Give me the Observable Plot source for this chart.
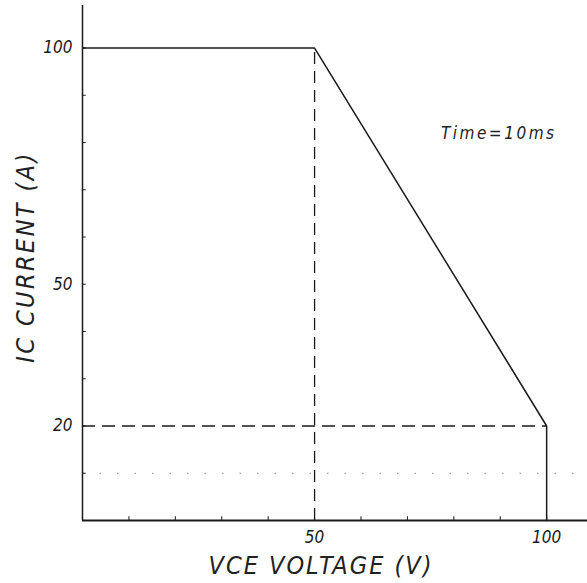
<!DOCTYPE html>
<html>
<head>
<meta charset="utf-8">
<script src="https://cdn.jsdelivr.net/npm/d3@7"></script>
<script src="https://cdn.jsdelivr.net/npm/@observablehq/plot@0.6"></script>
<style>
  html, body { margin: 0; padding: 0; background: #fff; }
  svg { display: block; }
</style>
</head>
<body>
<div id="chart"></div>
<script>
// Safe operating area boundary (VCE in V, IC in A)
const voltage = [0, 50, 100, 100];
const current = [100, 100, 20, 0];

// Dashed guide lines
const guideVoltage = [50];   // vertical guide at 50 V (0..100 A)
const guideCurrent = [20];   // horizontal guide at 20 A (0..100 V)
const faintCurrent = [10];   // faint dotted line

// Tick labels and minor tick positions
const yTickLabels = [20, 50, 100];
const xTickLabels = [50, 100];
const yMinorTicks = [10, 20, 30, 40, 50, 60, 70, 80, 90, 100];
const xMinorTicks = [10, 20, 30, 40, 50, 60, 70, 80, 90, 100];

const xLabel = "VCE VOLTAGE (V)";
const yLabel = "IC CURRENT (A)";
const note = "Time=10ms";

const boundary = voltage.map((v, i) => ({v, i: current[i]}));

const font = "'DejaVu Sans Condensed', 'DejaVu Sans', sans-serif";
const ink = "#1a1a1a";

const chart = Plot.plot({
  width: 587,
  height: 583,
  marginLeft: 82,
  marginRight: 0,
  marginTop: 5,
  marginBottom: 63,
  style: {fontFamily: font, fontStyle: "italic", fontWeight: 200, color: ink, background: "#fff"},
  x: {domain: [0, 108.8], label: null},
  y: {domain: [0, 109], label: null},
  marks: [
    // faint dotted line at 10 A
    Plot.ruleY(faintCurrent, {x1: 0, x2: 106, stroke: "#888", strokeWidth: 1, strokeDasharray: "1.5,16"}),
    // dashed guides
    Plot.ruleX(guideVoltage, {y1: 0, y2: 100, stroke: ink, strokeWidth: 1.3, strokeDasharray: "12,7"}),
    Plot.ruleY(guideCurrent, {x1: 0, x2: 100, stroke: ink, strokeWidth: 1.3, strokeDasharray: "13,7"}),
    // axes lines
    Plot.ruleX([0], {stroke: ink, strokeWidth: 1.5}),
    Plot.ruleY([0], {stroke: ink, strokeWidth: 1.8}),
    // inward minor ticks
    Plot.ruleY(yMinorTicks, {x1: 0, x2: 0.8, stroke: ink, strokeWidth: 1}),
    Plot.ruleX(xMinorTicks, {y1: 0, y2: 0.8, stroke: ink, strokeWidth: 1}),
    // SOA boundary
    Plot.line(boundary, {x: "v", y: "i", stroke: ink, strokeWidth: 1.5}),
    // tick labels
    Plot.axisY({ticks: yTickLabels, tickSize: 0, tickPadding: 10, fontSize: 17, label: null, tickFormat: d => String(d)}),
    Plot.axisX({ticks: xTickLabels, tickSize: 0, tickPadding: 10, fontSize: 17, label: null, tickFormat: d => String(d)}),
    // axis titles
    Plot.text([xLabel], {frameAnchor: "bottom", dx: -14, dy: 45, fontSize: 25, fill: "#222", textAnchor: "middle", lineAnchor: "middle"}),
    Plot.text([yLabel], {frameAnchor: "left", dx: -57, dy: -6, rotate: -90, fontSize: 25, fill: "#222", textAnchor: "middle", lineAnchor: "middle"}),
    // annotation
    Plot.text([note], {frameAnchor: "top-right", dx: -31, dy: 128, fontSize: 17, fill: "#222", textAnchor: "end", lineAnchor: "middle"})
  ]
});

// letter spacing to mimic the stencil lettering of the original
d3.select(chart).selectAll('g[aria-label="text"] text').each(function() {
  const t = this.textContent;
  const ls = t === xLabel ? 2 : t === yLabel ? 2.4 : 2.5;
  this.style.letterSpacing = ls + "px";
});

document.getElementById("chart").appendChild(chart);
</script>
</body>
</html>
